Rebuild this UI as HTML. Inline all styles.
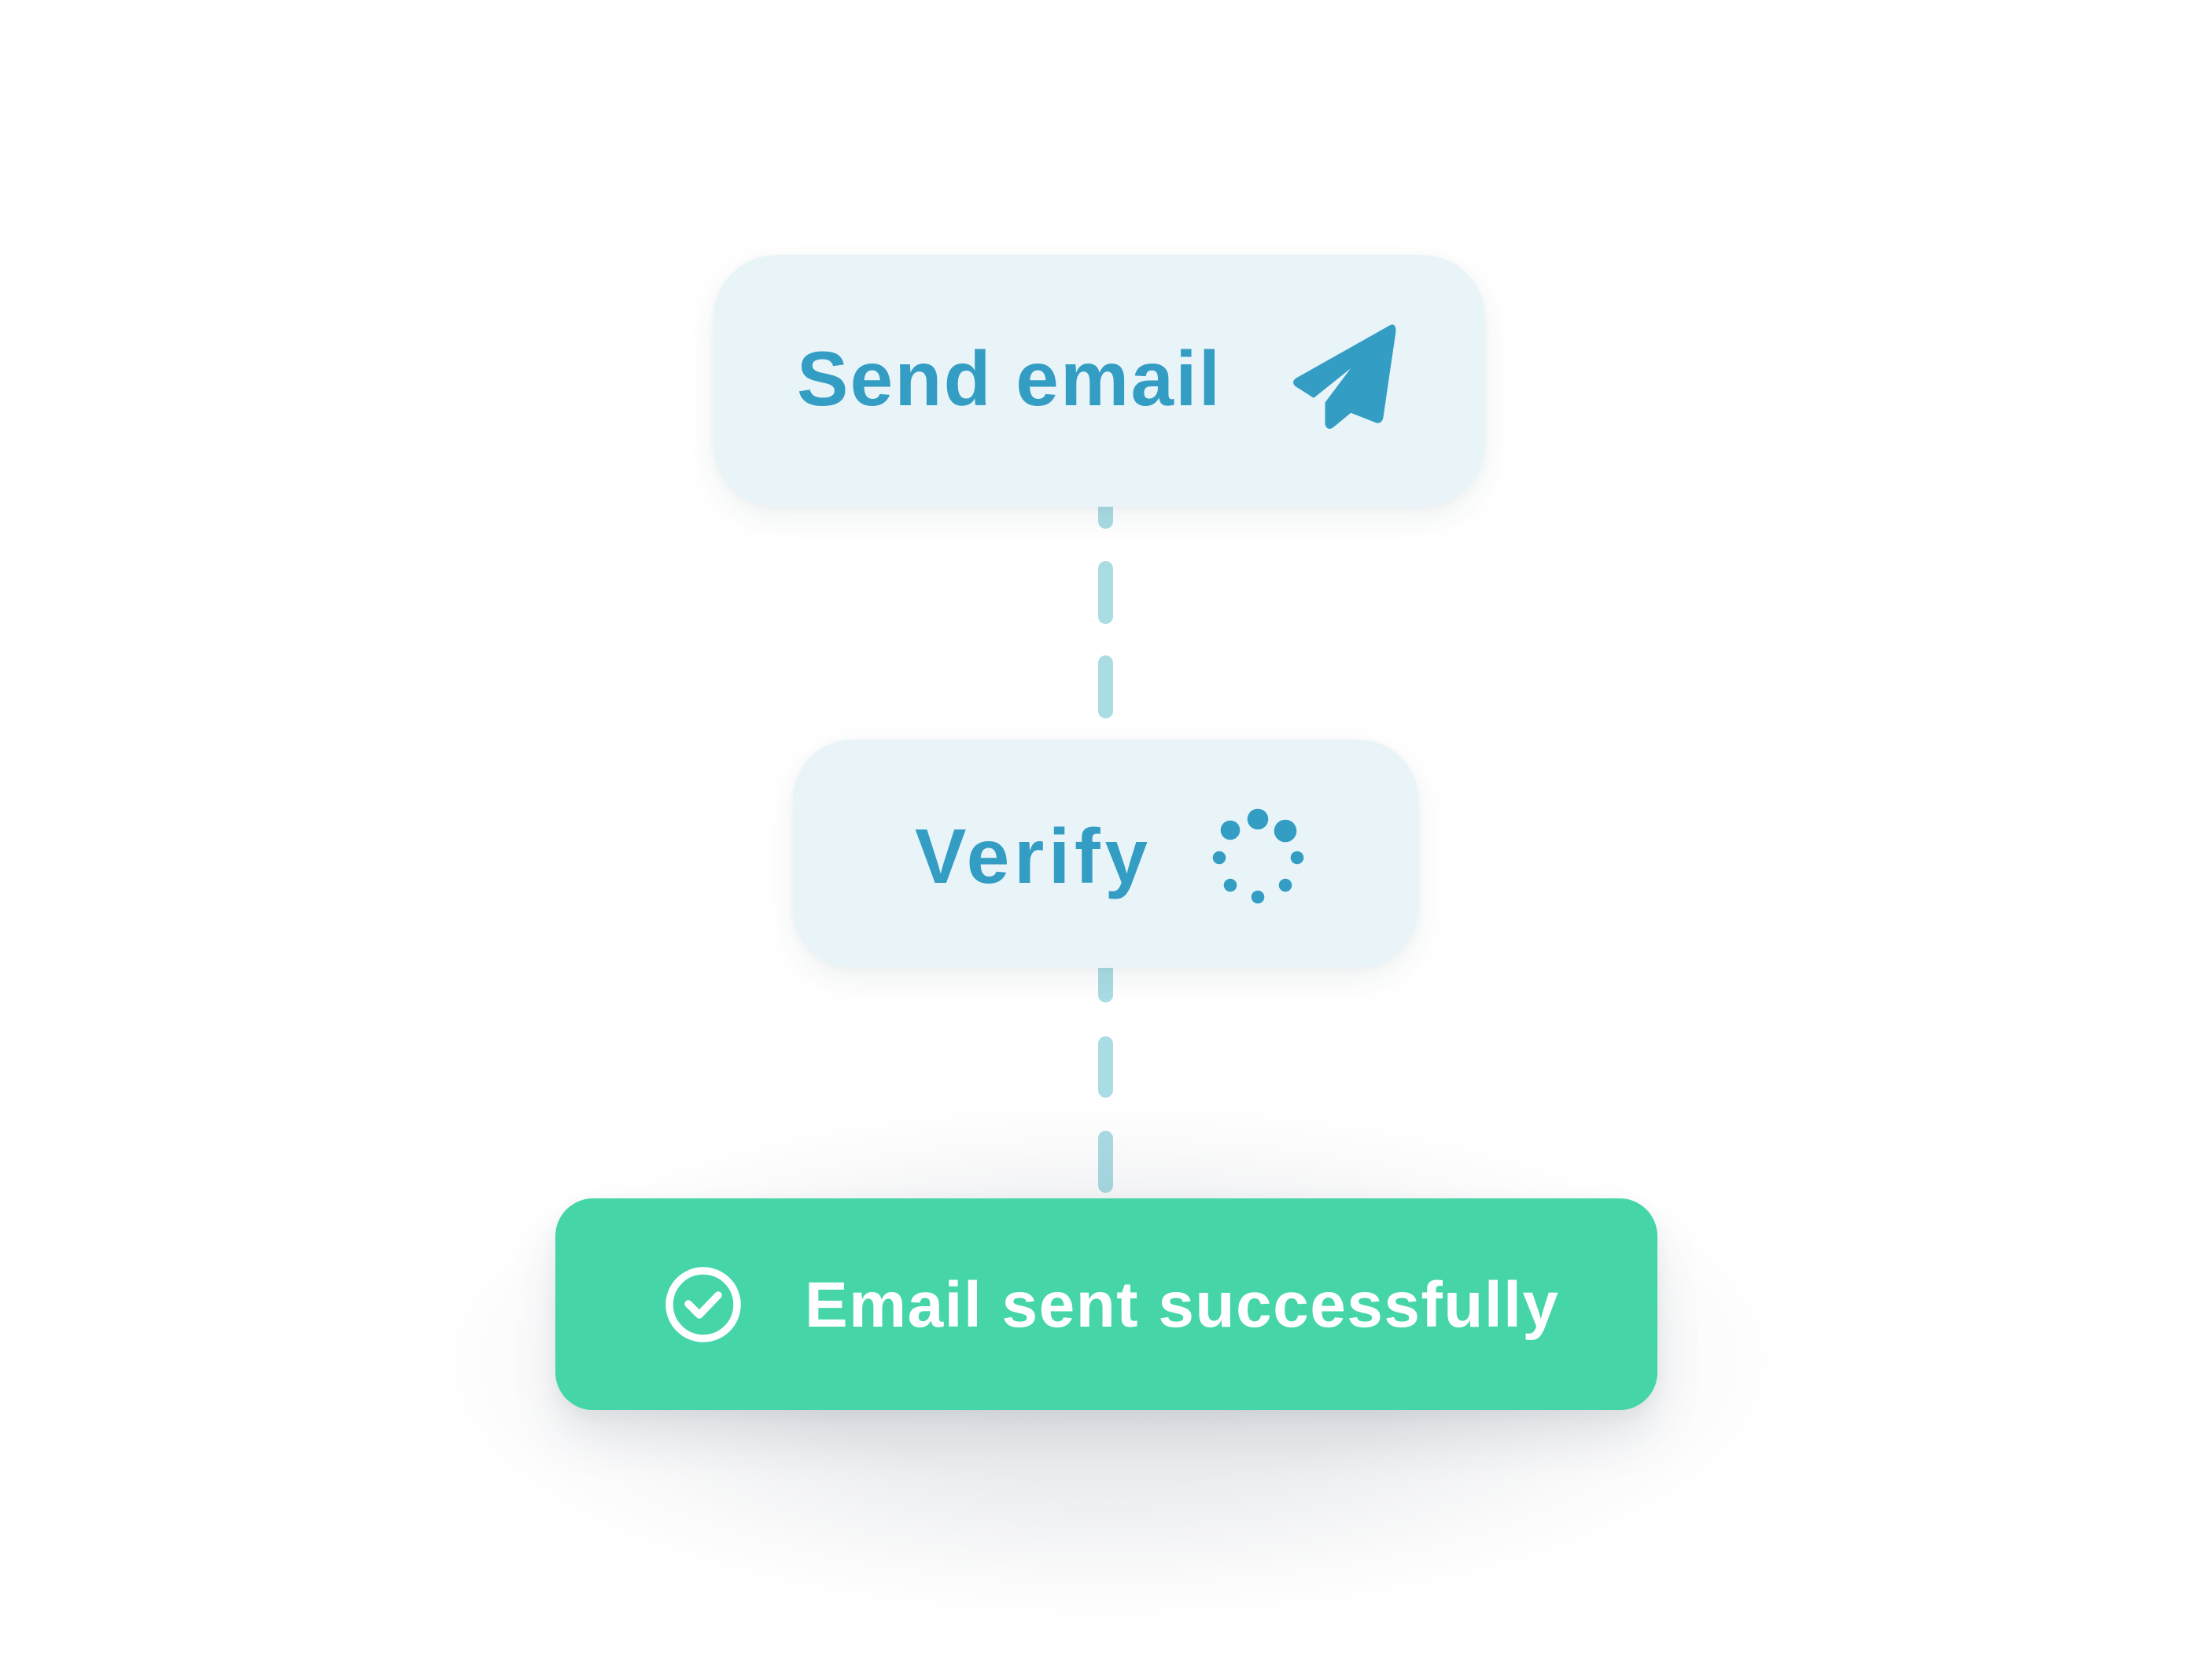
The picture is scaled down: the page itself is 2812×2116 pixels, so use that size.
<!DOCTYPE html>
<html>
<head>
<meta charset="utf-8">
<style>
  html, body { margin:0; padding:0; }
  body { width:2812px; height:2116px; background:#ffffff; position:relative; overflow:hidden; font-family:"Liberation Sans", sans-serif; }
  .layer { position:absolute; left:0; top:0; width:2812px; height:2116px; }
  .box { position:absolute; box-sizing:border-box; }
  .light { background:#e9f4f9; box-shadow: 0 14px 40px rgba(30,50,70,0.07), 0 2px 10px rgba(30,50,70,0.03); }
  #b1 { left:907px; top:324px; width:981px; height:320px; border-radius:80px; }
  #b2 { left:1008px; top:940px; width:795px; height:290px; border-radius:76px; }
  #glow { position:absolute; left:520px; top:1390px; width:1780px; height:680px;
          background: radial-gradient(ellipse 50% 50% at 50% 50%,
             rgba(40,55,80,0.11) 0%, rgba(40,55,80,0.095) 45%, rgba(40,55,80,0.055) 65%,
             rgba(40,55,80,0.02) 83%, rgba(40,55,80,0) 100%); }
  #b3 { left:706px; top:1523px; width:1401px; height:269px; border-radius:48px; background:#45d5a9;
        box-shadow: 0 36px 60px rgba(40,55,80,0.10), 0 8px 20px rgba(40,55,80,0.05); }
</style>
</head>
<body>
<svg class="layer" width="2812" height="2116" viewBox="0 0 2812 2116" xmlns="http://www.w3.org/2000/svg">
  <g stroke="#aadce4" stroke-width="19" stroke-linecap="round" fill="none">
    <line x1="1405.5" y1="630" x2="1405.5" y2="662.5"/>
    <line x1="1405.5" y1="722.5" x2="1405.5" y2="783.5"/>
    <line x1="1405.5" y1="842.5" x2="1405.5" y2="903.5"/>
    <line x1="1405.5" y1="1215" x2="1405.5" y2="1264.5"/>
    <line x1="1405.5" y1="1326.5" x2="1405.5" y2="1385.5"/>
    <line x1="1405.5" y1="1446.5" x2="1405.5" y2="1506.5"/>
  </g>
</svg>

<div id="glow"></div>

<div class="box light" id="b1"></div>
<div class="box light" id="b2"></div>
<div class="box" id="b3"></div>

<svg class="layer" width="2812" height="2116" viewBox="0 0 2812 2116" xmlns="http://www.w3.org/2000/svg">
  <!-- Send email -->
  <text x="1013" y="515" font-family="Liberation Sans, sans-serif" font-weight="bold" font-size="98" fill="#349dc4" textLength="538" lengthAdjust="spacing">Send email</text>
  <!-- paper plane -->
  <path d="M1767,415 L1648,482 Q1643,486 1648,490 L1670,504 L1725,460 L1686,512 L1686,539 Q1688,546 1694,542 L1717,523 L1750,536 Q1756,537 1757,530 L1773,421 Q1773,411 1767,415 Z"
        fill="#349dc4" stroke="#349dc4" stroke-width="3" stroke-linejoin="round"/>

  <!-- Verify -->
  <text x="1163" y="1122" font-family="Liberation Sans, sans-serif" font-weight="bold" font-size="98" fill="#349dc4" textLength="296" lengthAdjust="spacing">Verify</text>
  <!-- spinner -->
  <g fill="#349dc4">
    <circle cx="1599" cy="1041" r="13.3"/>
    <circle cx="1634" cy="1056" r="14.3"/>
    <circle cx="1564" cy="1055" r="12.3"/>
    <circle cx="1550" cy="1090" r="8.3"/>
    <circle cx="1649" cy="1090" r="8.3"/>
    <circle cx="1564" cy="1125" r="8.3"/>
    <circle cx="1634" cy="1125" r="8.3"/>
    <circle cx="1599" cy="1140" r="8.3"/>
  </g>

  <!-- success -->
  <circle cx="894" cy="1658" r="43" fill="none" stroke="#ffffff" stroke-width="9.5"/>
  <polyline points="875,1657 889,1671 913,1646" fill="none" stroke="#ffffff" stroke-width="9.5" stroke-linecap="round" stroke-linejoin="round"/>
  <text x="1023" y="1686" font-family="Liberation Sans, sans-serif" font-weight="bold" font-size="82" fill="#ffffff" textLength="958" lengthAdjust="spacing">Email sent successfully</text>
</svg>
</body>
</html>
